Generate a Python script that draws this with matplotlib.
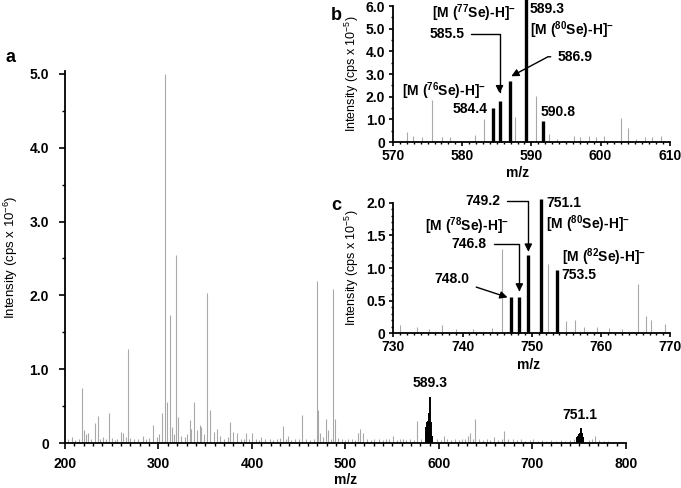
import matplotlib
matplotlib.use("Agg")
import matplotlib.pyplot as plt
from matplotlib.ticker import MultipleLocator, FuncFormatter

plt.rcParams["font.family"] = ["Liberation Sans", "DejaVu Sans"]
plt.rcParams["font.size"] = 10
plt.rcParams["mathtext.fontset"] = "custom"
plt.rcParams["mathtext.rm"] = "Liberation Sans"
plt.rcParams["mathtext.bf"] = "Liberation Sans:bold"
plt.rcParams["mathtext.it"] = "Liberation Sans:italic"

GRAY = "#a8a8a8"

# ---- panel a: full spectrum (intensity x 10^-6) ----
main_mz = [
    203, 207, 211, 215, 218, 220, 222, 225, 228, 232,
    235, 238, 241, 244, 247, 250, 253, 256, 260, 262,
    265, 267, 270, 274, 278, 283, 287, 290, 294, 298,
    301, 304, 307, 309, 312, 314, 317, 319, 321, 324,
    328, 331, 334, 335, 338, 341, 344, 346, 349, 352,
    355, 359, 363, 366, 370, 374, 377, 380, 384, 388,
    391, 394, 397, 400, 404, 407, 410, 414, 419, 423,
    427, 430, 433, 436, 438, 442, 446, 450, 454, 458,
    462, 466, 470, 471, 473, 476, 479, 481, 484, 487,
    489, 492, 496, 500, 503, 507, 510, 513, 516, 519,
    523, 527, 531, 536, 540, 543, 547, 551, 555, 558,
    561, 565, 569, 573, 577, 581, 598, 602, 605, 609,
    613, 617, 621, 625, 628, 631, 633, 636, 639, 643,
    647, 651, 655, 659, 663, 667, 670, 674, 679, 683,
    688, 692, 697, 701, 706, 710, 715, 720, 725, 730,
    735, 740, 744, 760, 764, 767, 771, 776, 781, 786,
]
main_int = [
    0.05, 0.08, 0.04, 0.06, 0.74, 0.17, 0.12, 0.14, 0.05, 0.27,
    0.36, 0.06, 0.08, 0.05, 0.40, 0.07, 0.04, 0.06, 0.15, 0.13,
    0.08, 1.28, 0.07, 0.05, 0.06, 0.10, 0.05, 0.07, 0.25, 0.08,
    0.12, 0.40, 5.00, 0.56, 1.74, 0.22, 0.12, 2.55, 0.35, 0.10,
    0.08, 0.12, 0.31, 0.19, 0.56, 0.17, 0.25, 0.22, 0.12, 2.03,
    0.45, 0.15, 0.19, 0.10, 0.06, 0.08, 0.28, 0.15, 0.14, 0.06,
    0.05, 0.14, 0.05, 0.14, 0.06, 0.04, 0.08, 0.05, 0.06, 0.04,
    0.05, 0.07, 0.23, 0.06, 0.10, 0.04, 0.06, 0.05, 0.38, 0.05,
    0.04, 0.06, 2.20, 0.45, 0.14, 0.08, 0.32, 0.17, 0.06, 2.09,
    0.33, 0.07, 0.05, 0.04, 0.06, 0.05, 0.04, 0.13, 0.19, 0.14,
    0.06, 0.04, 0.05, 0.06, 0.04, 0.06, 0.05, 0.09, 0.04, 0.05,
    0.06, 0.04, 0.05, 0.04, 0.30, 0.05, 0.06, 0.04, 0.10, 0.05,
    0.04, 0.06, 0.04, 0.05, 0.06, 0.10, 0.14, 0.05, 0.33, 0.05,
    0.04, 0.05, 0.04, 0.08, 0.04, 0.05, 0.16, 0.05, 0.06, 0.04,
    0.05, 0.03, 0.04, 0.05, 0.03, 0.04, 0.03, 0.04, 0.03, 0.04,
    0.03, 0.04, 0.05, 0.04, 0.05, 0.09, 0.04, 0.03, 0.03, 0.02,
]
se_cluster1_mz = [586.0, 587.0, 588.5, 589.5, 590.5, 591.5, 592.5]
se_cluster1_int = [0.22, 0.28, 0.30, 0.40, 0.63, 0.28, 0.10]
se_cluster2_mz = [747.5, 748.5, 749.5, 750.5, 751.5, 752.2, 753.2, 754.2]
se_cluster2_int = [0.08, 0.10, 0.12, 0.13, 0.14, 0.21, 0.13, 0.08]

# ---- panel b: zoom 570-610 (intensity x 10^-5) ----
b_gray_mz = [572.0, 572.9, 574.2, 575.6, 577.1, 578.2, 581.8, 583.1, 587.6,
             590.6, 592.6, 593.7, 596.1, 597.1, 598.3, 599.4, 600.5, 603.0,
             603.95, 605.1, 606.4, 607.4, 608.7]
b_gray_int = [0.44, 0.25, 0.22, 1.87, 0.20, 0.20, 0.30, 1.00, 1.10,
              2.02, 0.35, 0.15, 0.25, 0.20, 0.25, 0.20, 0.25, 1.06,
              0.60, 0.15, 0.20, 0.20, 0.25]
b_se_mz = [584.4, 585.5, 586.9, 589.2, 591.7]
b_se_int = [1.52, 1.80, 2.68, 6.30, 0.91]

# ---- panel c: zoom 730-770 (intensity x 10^-5) ----
c_gray_mz = [730.9, 733.4, 735.2, 737.1, 739.0, 741.5, 744.3, 745.7, 752.4,
             754.9, 756.3, 757.5, 759.4, 761.2, 763.0, 765.4, 766.5, 767.2,
             769.3]
c_gray_int = [0.12, 0.10, 0.06, 0.12, 0.06, 0.07, 0.08, 1.29, 1.06,
              0.19, 0.20, 0.10, 0.10, 0.08, 0.07, 0.75, 0.26, 0.20,
              0.15]
c_se_mz = [747.06, 748.2, 749.5, 751.3, 753.6]
c_se_int = [0.55, 0.56, 1.20, 2.05, 0.97]


def ion(iso):
    return r"[M ($^{\mathbf{" + iso + r"}}$Se)-H]$^{\mathbf{-}}$"


def fmt(v, pos):
    return "0" if abs(v) < 1e-9 else f"{v:.1f}"


def style_axes(ax, tick_len, pad_x, pad_y, size):
    for side in ("top", "right"):
        ax.spines[side].set_visible(False)
    for side in ("left", "bottom"):
        ax.spines[side].set_linewidth(1.3)
    ax.set_facecolor("none")
    ax.tick_params(which="major", direction="out", length=tick_len, width=1.2,
                   labelsize=size)
    ax.tick_params(which="minor", direction="out", length=tick_len * 0.6,
                   width=1.0)
    ax.tick_params(axis="x", pad=pad_x)
    ax.tick_params(axis="y", pad=pad_y)
    ax.yaxis.set_major_formatter(FuncFormatter(fmt))
    for lab in ax.get_xticklabels() + ax.get_yticklabels():
        lab.set_fontweight("bold")


fig = plt.figure(figsize=(6.81, 4.88), dpi=100)

# panel a
ax = fig.add_axes([0.0954, 0.0922, 0.8238, 0.7623])
ax.vlines(main_mz, 0, main_int, color=GRAY, lw=0.8)
ax.vlines(se_cluster1_mz, 0, se_cluster1_int, color="black", lw=1.4)
ax.vlines(se_cluster2_mz, 0, se_cluster2_int, color="black", lw=1.4)
ax.set_xlim(200, 800)
ax.set_ylim(0, 5.04)
ax.xaxis.set_major_locator(MultipleLocator(100))
ax.xaxis.set_minor_locator(MultipleLocator(10))
ax.yaxis.set_major_locator(MultipleLocator(1.0))
ax.yaxis.set_minor_locator(MultipleLocator(0.5))
style_axes(ax, 4, 6, 7.5, 10)
ax.set_xlabel("m/z", fontweight="bold", fontsize=10)
ax.xaxis.set_label_coords(0.5, -0.08)
ax.set_ylabel(r"Intensity (cps x 10$^{-6}$)", fontsize=9.5)
ax.yaxis.set_label_coords(-0.08, 0.5)
ax.text(590, 0.81, "589.3", ha="center", va="center", fontweight="bold")
ax.text(751, 0.38, "751.1", ha="center", va="center", fontweight="bold")
fig.text(5 / 681, 1 - 57 / 488, "a", fontsize=13, fontweight="bold",
         ha="left", va="center")

arrow = dict(arrowstyle="-|>", color="black", lw=1.0, mutation_scale=11,
             shrinkA=3, shrinkB=0)

# panel b
axb = fig.add_axes([0.5771, 0.709, 0.4063, 0.2787])
axb.vlines(b_gray_mz, 0, b_gray_int, color=GRAY, lw=0.8)
lc = axb.vlines(b_se_mz, 0, b_se_int, color="black", lw=2.4)
lc.set_clip_on(False)
axb.set_xlim(570, 610)
axb.set_ylim(0, 6.0)
axb.xaxis.set_major_locator(MultipleLocator(10))
axb.xaxis.set_minor_locator(MultipleLocator(1))
axb.yaxis.set_major_locator(MultipleLocator(1.0))
axb.yaxis.set_minor_locator(MultipleLocator(0.5))
style_axes(axb, 3, 2, 2.5, 10)
axb.set_xlabel("m/z", fontweight="bold", fontsize=10)
axb.xaxis.set_label_coords(0.45, -0.18)
axb.set_ylabel(r"Intensity (cps x 10$^{-5}$)", fontsize=9)
axb.yaxis.set_label_coords(-0.115, 0.5)
axb.text(589.8, 5.85, "589.3", ha="left", va="center", fontweight="bold")
axb.text(589.8, 4.95, ion("80"), ha="left", va="center", fontweight="bold")
axb.text(575.7, 5.68, ion("77"), ha="left", va="center", fontweight="bold")
axb.annotate("585.5", xy=(585.4, 2.15), xytext=(580.3, 4.75), ha="right",
             va="center", fontweight="bold",
             arrowprops=dict(arrow, connectionstyle="angle,angleA=0,angleB=90,rad=0"))
axb.annotate("586.9", xy=(587.1, 2.9), xytext=(593.8, 3.76), ha="left",
             va="center", fontweight="bold",
             arrowprops=dict(arrow, connectionstyle="angle,angleA=0,angleB=28,rad=0"))
axb.text(571.3, 2.26, ion("76"), ha="left", va="center", fontweight="bold")
axb.text(583.6, 1.44, "584.4", ha="right", va="center", fontweight="bold")
axb.text(591.4, 1.34, "590.8", ha="left", va="center", fontweight="bold")
fig.text(331 / 681, 1 - 15 / 488, "b", fontsize=13, fontweight="bold",
         ha="left", va="center")

# panel c
axc = fig.add_axes([0.5775, 0.3170, 0.4068, 0.2676])
axc.vlines(c_gray_mz, 0, c_gray_int, color=GRAY, lw=0.8)
lc = axc.vlines(c_se_mz, 0, c_se_int, color="black", lw=2.4)
lc.set_clip_on(False)
axc.set_xlim(730, 770)
axc.set_ylim(0, 2.0)
axc.xaxis.set_major_locator(MultipleLocator(10))
axc.xaxis.set_minor_locator(MultipleLocator(1))
axc.yaxis.set_major_locator(MultipleLocator(0.5))
axc.yaxis.set_minor_locator(MultipleLocator(0.1))
style_axes(axc, 3, 2, 2.5, 10)
axc.set_xlabel("m/z", fontweight="bold", fontsize=10)
axc.xaxis.set_label_coords(0.49, -0.19)
axc.set_ylabel(r"Intensity (cps x 10$^{-5}$)", fontsize=9)
axc.yaxis.set_label_coords(-0.115, 0.5)
axc.annotate("749.2", xy=(749.5, 1.25), xytext=(745.4, 2.03), ha="right",
             va="center", fontweight="bold",
             arrowprops=dict(arrow, connectionstyle="angle,angleA=0,angleB=90,rad=0"))
axc.text(752.1, 1.99, "751.1", ha="left", va="center", fontweight="bold")
axc.text(752.1, 1.67, ion("80"), ha="left", va="center", fontweight="bold")
axc.text(746.7, 1.64, ion("78"), ha="right", va="center", fontweight="bold")
axc.annotate("746.8", xy=(748.2, 0.64), xytext=(743.5, 1.37), ha="right",
             va="center", fontweight="bold",
             arrowprops=dict(arrow, connectionstyle="angle,angleA=0,angleB=90,rad=0"))
axc.annotate("748.0", xy=(746.5, 0.55), xytext=(741.0, 0.83), ha="right",
             va="center", fontweight="bold", arrowprops=arrow)
axc.text(754.3, 1.16, ion("82"), ha="left", va="center", fontweight="bold")
axc.text(754.3, 0.9, "753.5", ha="left", va="center", fontweight="bold")
fig.text(331 / 681, 1 - 205 / 488, "c", fontsize=13, fontweight="bold",
         ha="left", va="center")

fig.savefig("out.png", dpi=100)
